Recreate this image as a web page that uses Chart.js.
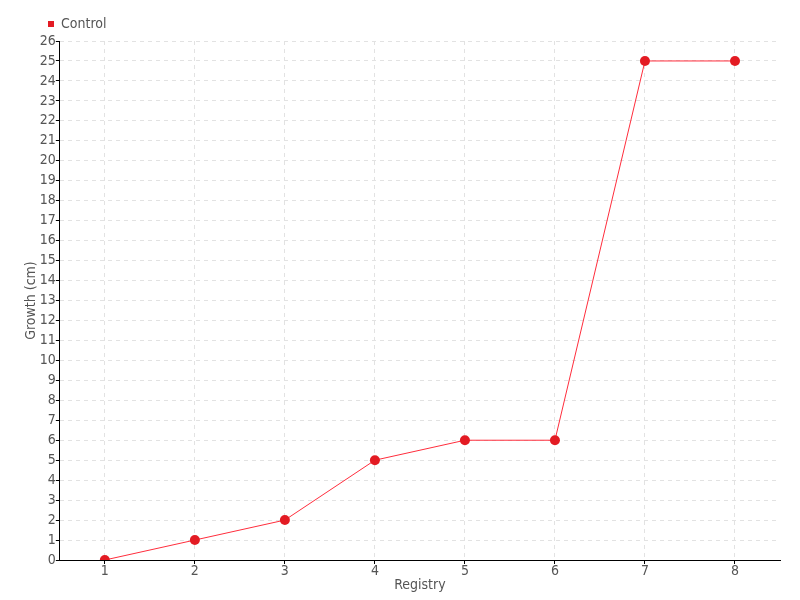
<!DOCTYPE html>
<html>
<head>
<meta charset="utf-8">
<script src="https://cdn.jsdelivr.net/npm/chart.js@4"></script>
<style>
  body { margin: 0; background: #fff; }
  #wrap { width: 800px; height: 600px; }
</style>
</head>
<body>
<div id="wrap"><canvas id="chart"></canvas></div>
<script>
// Datos del gráfico
const registros = ['1', '2', '3', '4', '5', '6', '7', '8'];
const crecimiento = [0, 1, 2, 5, 6, 6, 25, 25];
const nombreSerie = 'Control';

const fuente = "'DejaVu Sans Condensed', 'DejaVu Sans', sans-serif";
const gris = '#555';

// Desplaza la leyenda hacia la derecha, como en el original
const moverLeyenda = {
  id: 'moverLeyenda',
  afterLayout(chart) {
    if (chart.legend) chart.legend.left = 38;
  }
};

const ejeComun = {
  border: { color: '#000', width: 1, dash: [4, 4] },
  grid: {
    color: '#e2e2e2',
    tickColor: '#000',
    tickLength: 4,
    tickBorderDash: []
  }
};

const ctx = document.getElementById('chart').getContext('2d');
new Chart(ctx, {
  type: 'line',
  data: {
    labels: registros,
    datasets: [{
      label: nombreSerie,
      data: crecimiento,
      borderColor: '#ff2d3c',
      backgroundColor: '#e31b23',
      borderWidth: 1,
      pointRadius: 5,
      pointHoverRadius: 5,
      pointBackgroundColor: '#e31b23',
      pointBorderColor: '#e31b23',
      pointBorderWidth: 0,
      tension: 0,
      fill: false
    }]
  },
  plugins: [moverLeyenda],
  options: {
    responsive: true,
    maintainAspectRatio: false,
    animation: false,
    layout: { padding: { left: 23, right: 20, top: 7, bottom: 8 } },
    plugins: {
      legend: {
        position: 'top',
        align: 'start',
        labels: {
          usePointStyle: true,
          pointStyle: 'rect',
          boxWidth: 6,
          boxHeight: 6,
          padding: 10,
          color: gris,
          font: { family: fuente, size: 14 }
        }
      },
      tooltip: { enabled: false }
    },
    scales: {
      x: {
        offset: true,
        border: ejeComun.border,
        grid: ejeComun.grid,
        ticks: { color: gris, font: { family: fuente, size: 14, lineHeight: 1 }, padding: 0 },
        title: {
          display: true,
          text: 'Registry',
          color: gris,
          font: { family: fuente, size: 14, lineHeight: 1 },
          padding: { top: 0, bottom: 0 }
        }
      },
      y: {
        min: 0,
        max: 26,
        border: ejeComun.border,
        grid: ejeComun.grid,
        ticks: { stepSize: 1, color: gris, font: { family: fuente, size: 14 }, padding: 0 },
        title: {
          display: true,
          text: 'Growth (cm)',
          color: gris,
          font: { family: fuente, size: 14 },
          padding: { top: 0, bottom: 0 }
        }
      }
    }
  }
});
</script>
</body>
</html>
